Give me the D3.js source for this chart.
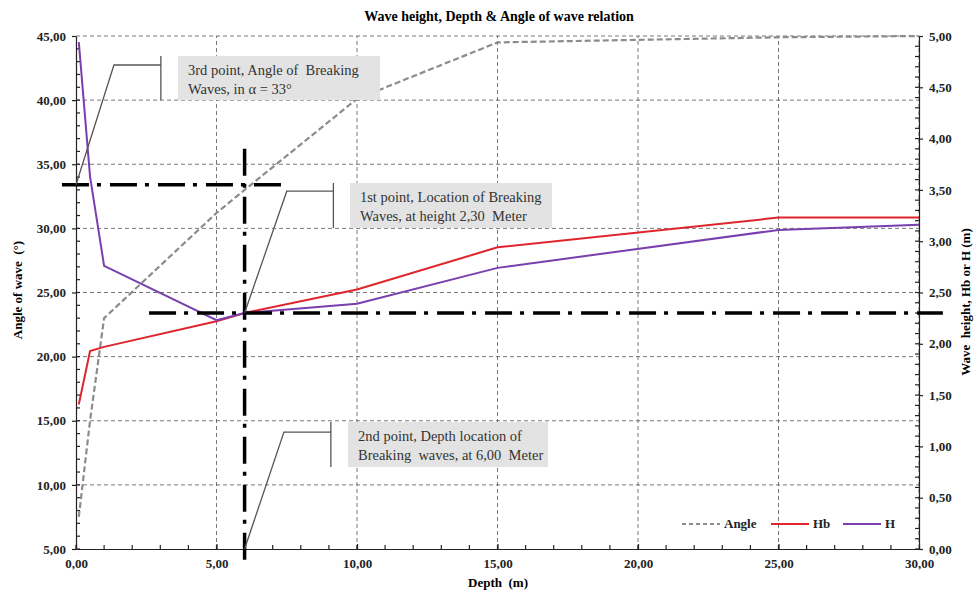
<!DOCTYPE html>
<meta charset="utf-8">
<head>
  <title>Wave height, Depth & Angle of wave relation</title>
  <script src="https://d3js.org/d3.v7.min.js"></script>
  <style>
    body { margin: 0; background: #fff; }
    svg text { font-family: "Liberation Serif", "DejaVu Serif", serif; white-space: pre; }
    .grid line { stroke: #555; stroke-width: 0.8; stroke-dasharray: 4,3; }
    .axis path, .axis line { stroke: #222; stroke-width: 1.2; }
    .axis text { font-family: "Liberation Serif", serif; font-weight: bold; font-size: 13px; fill: #222; }
    .note text { font-size: 14.5px; fill: #333; }
  </style>
</head>
<body>
<svg width="980" height="596"></svg>
<script>
// data
const depth = [0.1, 0.5, 1, 5, 6, 10, 15, 25, 30];
const angle = [7.5, 15.0, 23.0, 31.2, 33.0, 40.1, 44.5, 44.9, 45.0];
const hb    = [1.41, 1.93, 1.97, 2.22, 2.30, 2.53, 2.94, 3.23, 3.23];
const h     = [4.94, 3.63, 2.76, 2.23, 2.30, 2.39, 2.74, 3.11, 3.16];

const xTicks = [0, 5, 10, 15, 20, 25, 30];
const leftTicks = [5, 10, 15, 20, 25, 30, 35, 40, 45];
const rightTicks = [0, 0.5, 1, 1.5, 2, 2.5, 3, 3.5, 4, 4.5, 5];

// breaking point
const breakDepth = 6, breakAngle = 33.4, breakHeight = 2.30;

const width = 980, height = 596;
const margin = {top: 36, right: 61, bottom: 47, left: 76};

const svg = d3.select("svg");
const fmt = d3.formatLocale({decimal: ",", thousands: ".", grouping: [3], currency: ["", ""]}).format(".2f");

const x = d3.scaleLinear().domain([0, 30]).range([margin.left, width - margin.right]);
const yL = d3.scaleLinear().domain([5, 45]).range([height - margin.bottom, margin.top]);
const yR = d3.scaleLinear().domain([0, 5]).range([height - margin.bottom, margin.top]);

// grid
const grid = svg.append("g").attr("class", "grid");
grid.selectAll(".v").data(xTicks.slice(1)).enter().append("line")
    .attr("x1", d => x(d)).attr("x2", d => x(d))
    .attr("y1", yL(5)).attr("y2", yL(45));
grid.selectAll(".h").data(leftTicks.slice(1)).enter().append("line")
    .attr("x1", x(0)).attr("x2", x(30))
    .attr("y1", d => yL(d)).attr("y2", d => yL(d));

// axes
svg.append("g").attr("class", "axis")
    .attr("transform", `translate(0,${yL(5)})`)
    .call(d3.axisBottom(x).tickValues(xTicks).tickFormat(fmt).tickSizeInner(-5).tickSizeOuter(0).tickPadding(10))
    .call(g => g.selectAll(".minor").data(d3.range(0, 30, 1)).enter().append("line")
        .attr("class", "minor").attr("x1", d => x(d)).attr("x2", d => x(d))
        .attr("y1", 0).attr("y2", -4).attr("stroke", "#222"));

svg.append("g").attr("class", "axis")
    .attr("transform", `translate(${x(0)},0)`)
    .call(d3.axisLeft(yL).tickValues(leftTicks).tickFormat(fmt).tickSizeInner(4).tickSizeOuter(0).tickPadding(6))
    .call(g => g.selectAll(".minor").data(d3.range(5, 45, 1)).enter().append("line")
        .attr("class", "minor").attr("x1", 0).attr("x2", 4)
        .attr("y1", d => yL(d)).attr("y2", d => yL(d)).attr("stroke", "#222"));

svg.append("g").attr("class", "axis")
    .attr("transform", `translate(${x(30)},0)`)
    .call(d3.axisRight(yR).tickValues(rightTicks).tickFormat(fmt).tickSizeInner(4).tickSizeOuter(0).tickPadding(6))
    .call(g => g.selectAll(".minor").data(d3.range(0, 5, 0.1)).enter().append("line")
        .attr("class", "minor").attr("x1", 0).attr("x2", -4)
        .attr("y1", d => yR(d)).attr("y2", d => yR(d)).attr("stroke", "#222"));

svg.selectAll(".axis").attr("font-family", null).attr("font-size", null);

// series
const rows = depth.map((d, i) => ({d: d, a: angle[i], hb: hb[i], h: h[i]}));

svg.append("path").datum(rows)
    .attr("fill", "none").attr("stroke", "#8c8c8c").attr("stroke-width", 2.2)
    .attr("stroke-dasharray", "6,3")
    .attr("d", d3.line().x(r => x(r.d)).y(r => yL(r.a)));

svg.append("path").datum(rows)
    .attr("fill", "none").attr("stroke", "#e0242c").attr("stroke-width", 2)
    .attr("d", d3.line().x(r => x(r.d)).y(r => yR(r.hb)));

svg.append("path").datum(rows)
    .attr("fill", "none").attr("stroke", "#7a3fae").attr("stroke-width", 2)
    .attr("d", d3.line().x(r => x(r.d)).y(r => yR(r.h)));

// breaking point cross lines
const cross = svg.append("g")
    .attr("stroke", "#000").attr("stroke-width", 3.5).attr("stroke-dasharray", "27,8,4,9");
cross.append("line")
    .attr("x1", x(-0.5)).attr("x2", x(7.3))
    .attr("y1", yL(breakAngle)).attr("y2", yL(breakAngle));
cross.append("line")
    .attr("x1", x(2.6)).attr("x2", x(30.85))
    .attr("y1", yR(breakHeight)).attr("y2", yR(breakHeight));
cross.append("line")
    .attr("x1", x(breakDepth)).attr("x2", x(breakDepth))
    .attr("y1", yL(36.2)).attr("y2", yL(3.9));

// callouts
function callout(lines, box, from, knee, barX) {
  const g = svg.append("g").attr("class", "note");
  g.append("rect")
      .attr("x", x(box[0])).attr("y", yL(box[1]))
      .attr("width", x(box[2]) - x(box[0])).attr("height", yL(box[3]) - yL(box[1]))
      .attr("fill", "#e3e3e3");
  g.append("path")
      .attr("fill", "none").attr("stroke", "#555").attr("stroke-width", 1.3)
      .attr("d", `M${from[0]},${from[1]}L${x(knee[0])},${yL(knee[1])}L${x(barX)},${yL(knee[1])}` +
                 `M${x(barX)},${yL(box[1])}L${x(barX)},${yL(box[3])}`);
  g.selectAll("text").data(lines).enter().append("text")
      .attr("x", x(box[0]) + 10)
      .attr("y", (d, i) => yL(box[1]) + 19 + i * 19)
      .text(d => d);
}

callout(["3rd point, Angle of  Breaking", "Waves, in \u03b1 = 33\u00b0"],
    [3.63, 43.44, 10.82, 40.01], [x(0), yL(breakAngle)], [1.35, 42.74], 3.02);
callout(["1st point, Location of Breaking", "Waves, at height 2,30  Meter"],
    [9.75, 33.54, 16.94, 30.03], [x(breakDepth), yR(breakHeight)], [7.5, 32.9], 9.16);
callout(["2nd point, Depth location of", "Breaking  waves, at 6,00  Meter"],
    [9.68, 14.9, 16.8, 11.39], [x(breakDepth), yL(5)], [7.4, 14.12], 9.07);

// titles
svg.append("text").attr("x", 499).attr("y", 21).attr("text-anchor", "middle")
    .attr("font-weight", "bold").attr("font-size", 14).text("Wave height, Depth & Angle of wave relation");
svg.append("text").attr("x", 498).attr("y", 587).attr("text-anchor", "middle")
    .attr("font-weight", "bold").attr("font-size", 13).text("Depth  (m)");
svg.append("text").attr("transform", "translate(22,290) rotate(-90)").attr("text-anchor", "middle")
    .attr("font-weight", "bold").attr("font-size", 13).text("Angle of wave  (\u00b0)");
svg.append("text").attr("transform", "translate(970,302) rotate(-90)").attr("text-anchor", "middle")
    .attr("font-weight", "bold").attr("font-size", 13).text("Wave  height, Hb or H (m)");

// legend
const legendItems = [
  {name: "Angle", color: "#8c8c8c", dash: "4,3", x0: 682},
  {name: "Hb", color: "#e0242c", dash: null, x0: 771},
  {name: "H", color: "#7a3fae", dash: null, x0: 843}
];
const lg = svg.append("g");
legendItems.forEach(it => {
  lg.append("line").attr("x1", it.x0).attr("x2", it.x0 + 38).attr("y1", 524).attr("y2", 524)
      .attr("stroke", it.color).attr("stroke-width", 2).attr("stroke-dasharray", it.dash);
  lg.append("text").attr("x", it.x0 + 42).attr("y", 528)
      .attr("font-weight", "bold").attr("font-size", 13).attr("fill", "#222").text(it.name);
});
</script>
</body>
